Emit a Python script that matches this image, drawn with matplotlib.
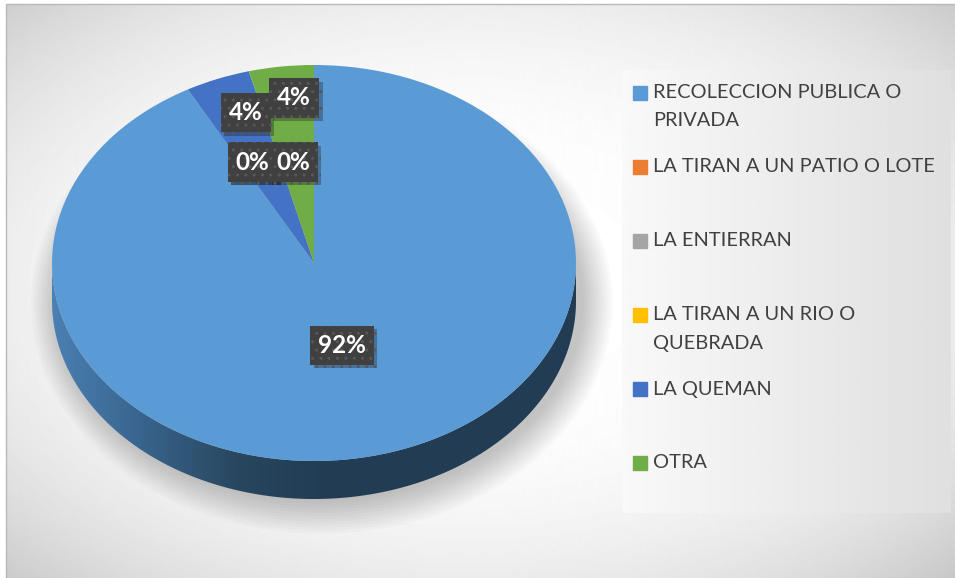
import numpy as np
import matplotlib
matplotlib.use('Agg')
import matplotlib.pyplot as plt
from matplotlib.patches import Polygon, Ellipse, Rectangle
from matplotlib.colors import LinearSegmentedColormap
import matplotlib.patheffects as pe

categories = ['RECOLECCION PUBLICA O\nPRIVADA', 'LA TIRAN A UN PATIO O LOTE', 'LA ENTIERRAN',
              'LA TIRAN A UN RIO O\nQUEBRADA', 'LA QUEMAN', 'OTRA']
values = [92, 0, 0, 0, 4, 4]
colors = ['#5b9bd5', '#ed7d31', '#a5a5a5', '#ffc000', '#4472c4', '#70ad47']

W, H = 955, 578
plt.rcParams['font.family'] = ['Lato', 'DejaVu Sans']
plt.rcParams['hatch.linewidth'] = 1.0

fig = plt.figure(figsize=(W / 100, H / 100), dpi=100)

# background (pixel coordinates)
bg = fig.add_axes([0, 0, 1, 1])
bg.set_xlim(0, W)
bg.set_ylim(H, 0)
bg.axis('off')
yy, xx = np.mgrid[0:H, 0:W]
r = np.sqrt(((xx - 470) / 480.0) ** 2 + ((yy - 285) / 290.0) ** 2)
shade = np.clip(1 - 0.075 * r ** 3, 0.76, 1)
bg.imshow(shade, cmap='gray', vmin=0, vmax=1, extent=(0, W, H, 0), aspect='auto')
bg.add_patch(Rectangle((0, 0), 5, H, color='white', zorder=3))
bg.add_patch(Rectangle((0, 0), W, 3, color='white', zorder=3))
bg.plot([5.5, 5.5, W], [H, 3.5, 3.5], color='#b8b8b8', lw=1, zorder=4)

# legend panel
lx0, lx1, ly0, ly1 = 622, 950, 70, 513
lg = np.linspace(0.975, 0.875, 200)[None, :] * np.ones((50, 1))
bg.imshow(lg, cmap='gray', vmin=0, vmax=1, extent=(lx0, lx1, ly1, ly0), aspect='auto', zorder=2)
bg.set_xlim(0, W)
bg.set_ylim(H, 0)

row_y = 93
for cat, col in zip(categories, colors):
    bg.add_patch(Rectangle((633, row_y - 7), 14, 14, color=col, zorder=5))
    for i, line in enumerate(cat.split('\n')):
        bg.text(653, row_y + i * 28, line, fontsize=14.4, color='#404040',
                va='center', ha='left', zorder=5)
    row_y += 74

# pie: top face ellipse in x 52..576, y 65..461; side depth 38 px
px0, px1, ptop, pbot = 52, 576, 65, 499
depth = 38 / 198.0
ax = fig.add_axes([px0 / W, 1 - pbot / H, (px1 - px0) / W, (pbot - ptop) / H])
ax.axis('off')

# soft shadow
for k in range(12):
    ax.add_patch(Ellipse((0.03, -depth - 0.01), 2.0 + 0.02 * k, 2.0 + 0.03 * k,
                         color='black', alpha=0.018, lw=0, zorder=0, clip_on=False))

t = np.linspace(np.pi, 2 * np.pi, 200)
side = np.vstack([np.column_stack([np.cos(t), np.sin(t)]),
                  np.column_stack([np.cos(t[::-1]), np.sin(t[::-1]) - depth])])
side_poly = Polygon(side, closed=True, facecolor='none', edgecolor='none', zorder=1)
ax.add_patch(side_poly)
side_cmap = LinearSegmentedColormap.from_list(
    'side', [(0, '#4a80b2'), (0.15, '#3a6791'), (0.35, '#28475f'), (0.5, '#223d55'), (1, '#223c54')])
grad = np.linspace(0, 1, 300)[None, :]
im = ax.imshow(grad, cmap=side_cmap, extent=(-1, 1, -1 - depth, 0), aspect='auto', zorder=1)
im.set_clip_path(side_poly)

wedges, _ = ax.pie(values, colors=colors, startangle=90, counterclock=False,
                   wedgeprops=dict(linewidth=0, zorder=2))
ax.set_aspect('auto')
ax.set_xlim(-1, 1)
ax.set_ylim(-1 - depth, 1)

# data labels
label_r = [0.43, 0.582, 0.582, 0.582, 0.815, 0.84]
label_dx = [0, 0.046, 0.046, 0.2, 0.04, 0.03]
total = sum(values)
for w, v, lr, dx in zip(wedges, values, label_r, label_dx):
    mid = np.deg2rad((w.theta1 + w.theta2) / 2)
    txt = ax.text(lr * np.cos(mid) + dx, lr * np.sin(mid), '%d%%' % round(100 * v / total),
                  ha='center', va='center', fontsize=17.5, fontweight='bold', color='white', zorder=6,
                  bbox=dict(boxstyle='square,pad=0.33', facecolor='#404040', edgecolor='#575757',
                            hatch='..', lw=0))
    txt.get_bbox_patch().set_path_effects([pe.withSimplePatchShadow(offset=(2.5, -2.5), alpha=0.3)])

fig.savefig('out.png', dpi=100)
